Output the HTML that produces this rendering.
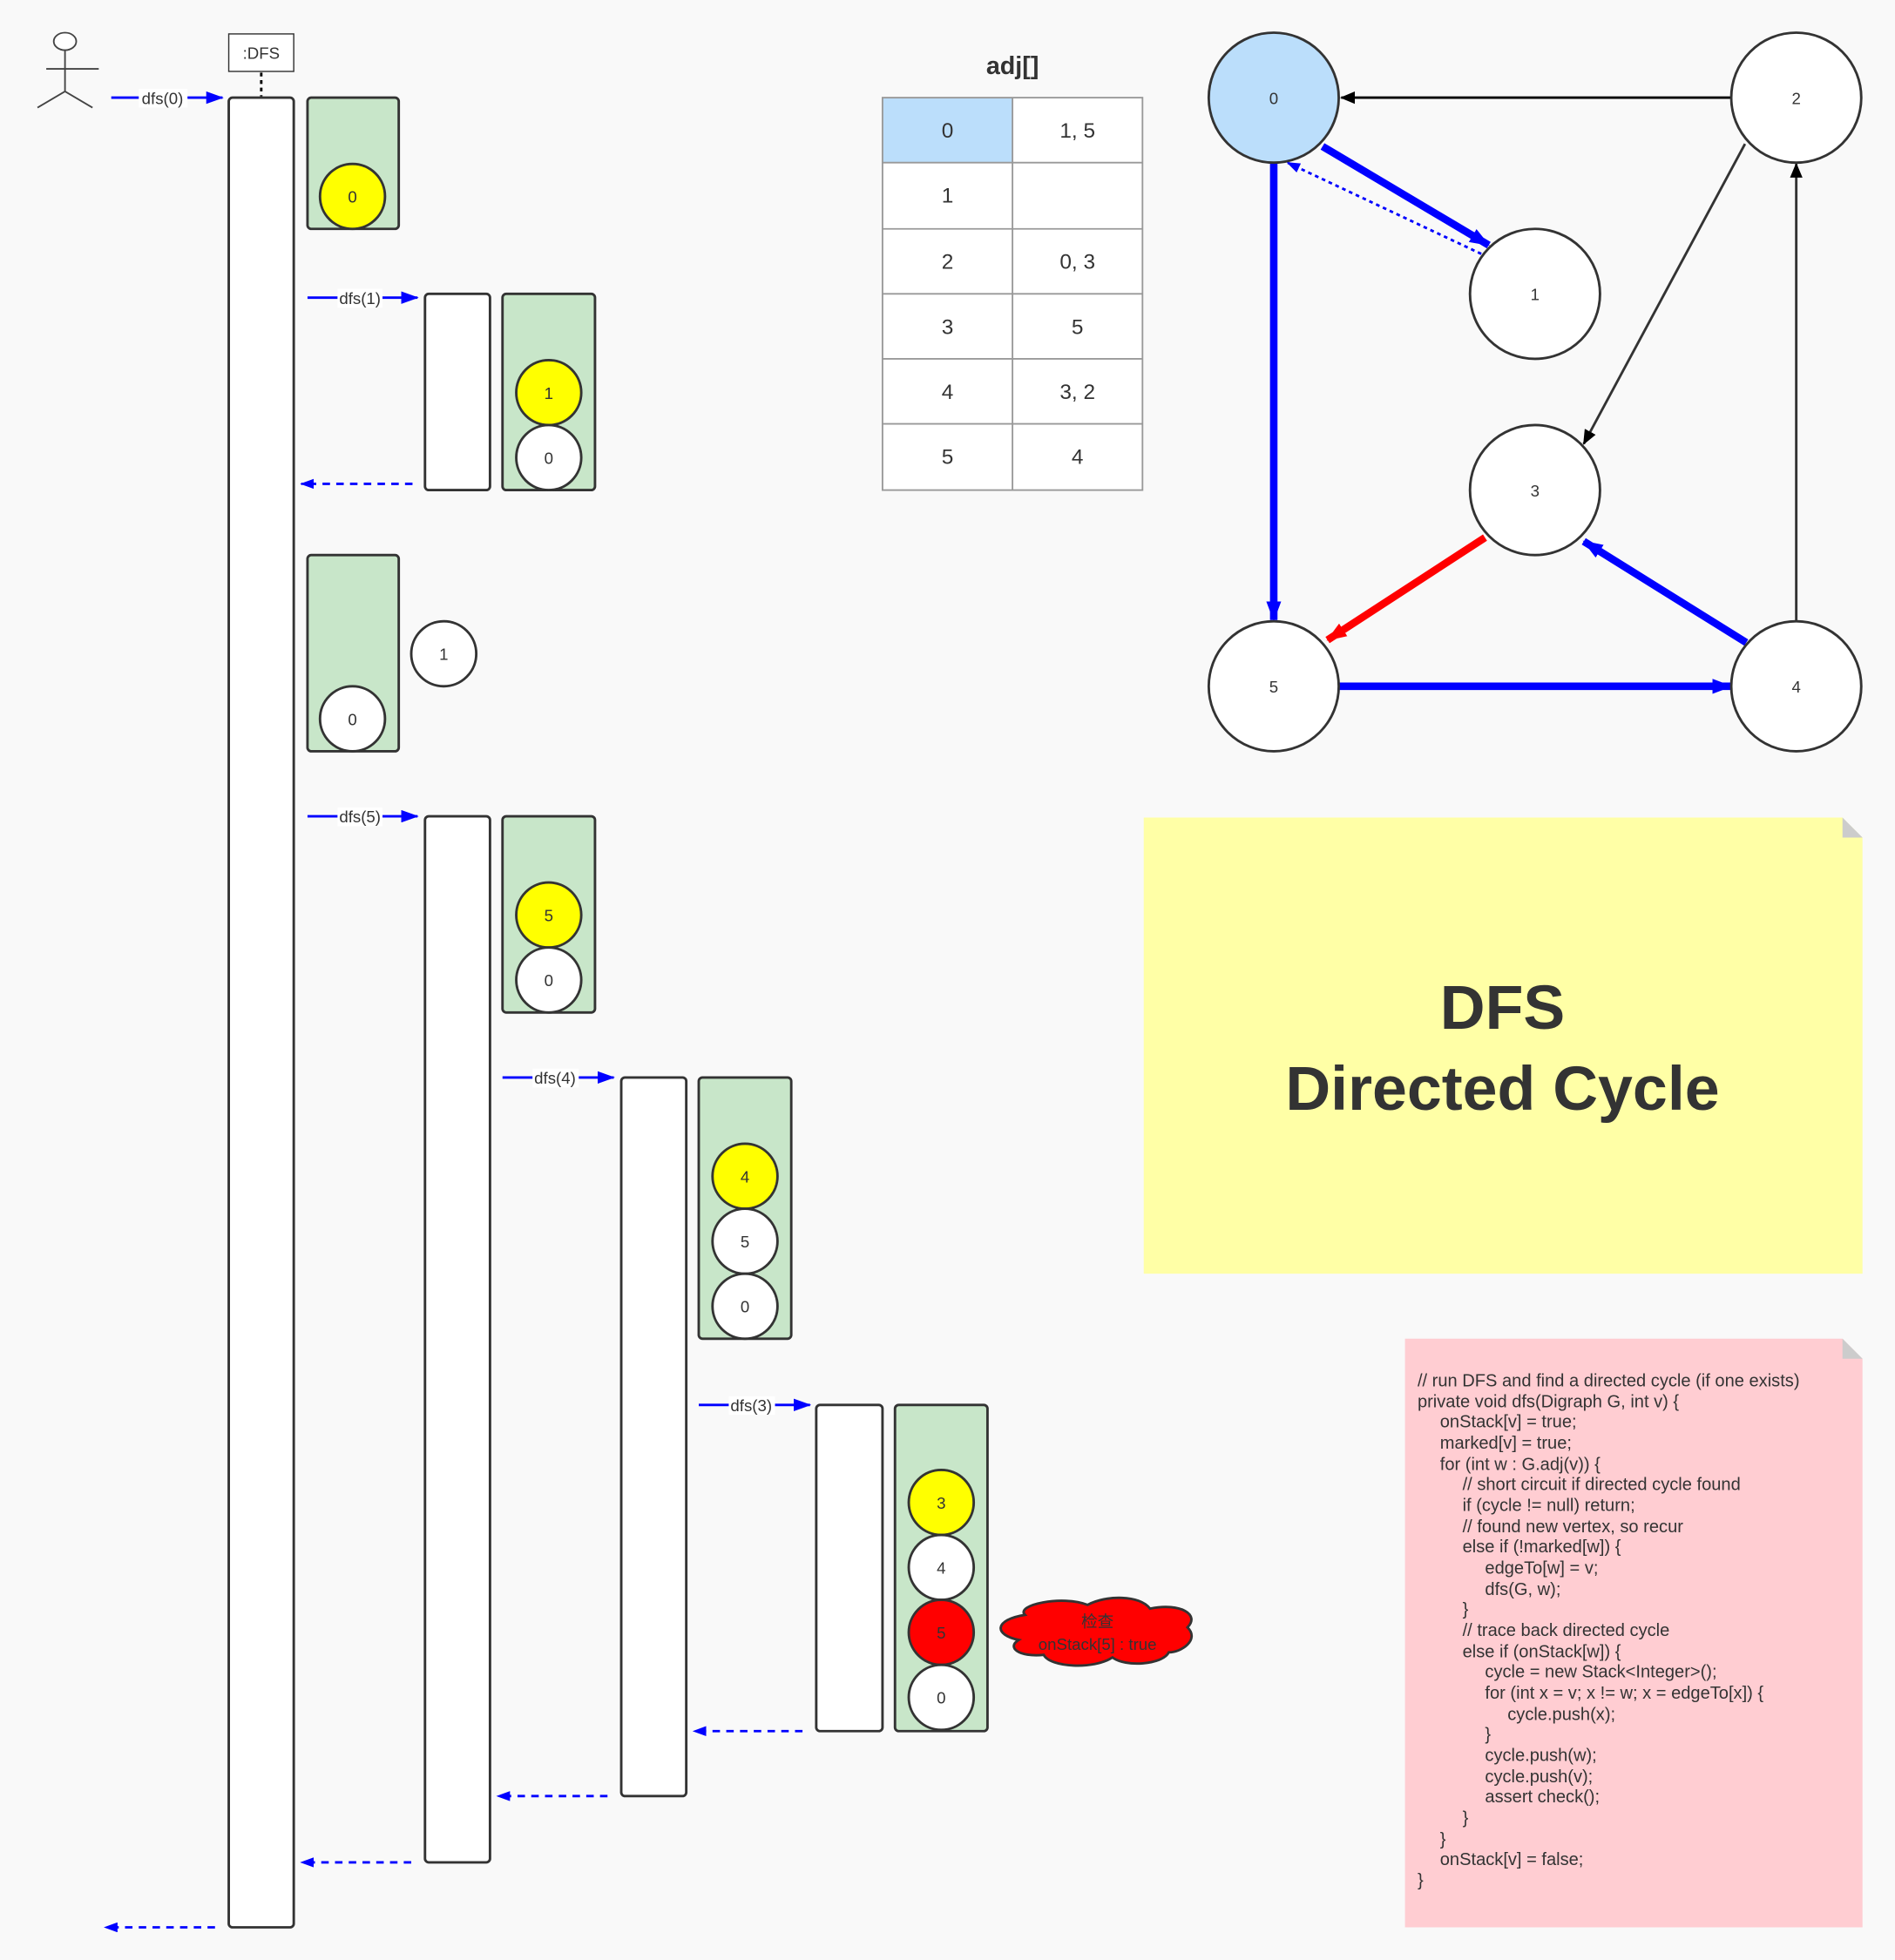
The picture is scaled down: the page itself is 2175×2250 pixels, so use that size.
<!DOCTYPE html>
<html><head><meta charset="utf-8"><style>html,body{margin:0;padding:0;background:#f9f9f9}svg{display:block}text{font-family:"Liberation Sans","Noto Sans CJK SC",sans-serif;fill:#333}</style></head><body>
<svg width="2175" height="2250" viewBox="0 0 1516 1568" xmlns="http://www.w3.org/2000/svg">
<defs>
<marker id="ab" markerWidth="14" markerHeight="10" refX="13" refY="5" orient="auto" markerUnits="userSpaceOnUse"><path d="M0,0L14,5L0,10z" fill="#00f"/></marker>
<marker id="abd" markerWidth="11" markerHeight="8" refX="10" refY="4" orient="auto" markerUnits="userSpaceOnUse"><path d="M0,0L11,4L0,8z" fill="#00f"/></marker>
<marker id="ab2" markerWidth="16" markerHeight="12" refX="15" refY="6" orient="auto" markerUnits="userSpaceOnUse"><path d="M0,0L16,6L0,12z" fill="#00f"/></marker>
<marker id="ak" markerWidth="12" markerHeight="10" refX="11" refY="5" orient="auto" markerUnits="userSpaceOnUse"><path d="M0,0L12,5L0,10z" fill="#000"/></marker>
<marker id="ar" markerWidth="16" markerHeight="12" refX="15" refY="6" orient="auto" markerUnits="userSpaceOnUse"><path d="M0,0L16,6L0,12z" fill="#f00"/></marker>
</defs>
<rect width="1516" height="1568" fill="#f9f9f9"/>
<!-- actor -->
<g stroke="#444" stroke-width="1.3" fill="none"><ellipse cx="52" cy="33" rx="9" ry="7" fill="#fff"/><path d="M52,40V73M37,55H79"/><line x1="52" y1="73" x2="30" y2="86"/><line x1="52" y1="73" x2="74" y2="86"/></g>
<rect x="183" y="27" width="52" height="30" fill="#fff" stroke="#333" stroke-width="1"/>
<text x="209" y="47" font-size="13" text-anchor="middle">:DFS</text>
<line x1="209" y1="58" x2="209" y2="77" stroke="#000" stroke-width="2" stroke-dasharray="3,3"/>
<!-- bars -->
<g fill="#fff" stroke="#333" stroke-width="2">
<rect x="183" y="78" width="52" height="1464" rx="3"/>
<rect x="340" y="235" width="52" height="157" rx="3"/>
<rect x="340" y="653" width="52" height="837" rx="3"/>
<rect x="497" y="862" width="52" height="575" rx="3"/>
<rect x="653" y="1124" width="53" height="261" rx="3"/>
</g>
<!-- stack boxes -->
<g fill="#c8e6c9" stroke="#333" stroke-width="2">
<rect x="246" y="78" width="73" height="105" rx="3"/>
<rect x="402" y="235" width="74" height="157" rx="3"/>
<rect x="246" y="444" width="73" height="157" rx="3"/>
<rect x="402" y="653" width="74" height="157" rx="3"/>
<rect x="559" y="862" width="74" height="209" rx="3"/>
<rect x="716" y="1124" width="74" height="261" rx="3"/>
</g>
<g stroke="#333" stroke-width="2" font-size="13">
<circle cx="282" cy="157" r="26" fill="#ff0"/>
<circle cx="439" cy="314" r="26" fill="#ff0"/><circle cx="439" cy="366" r="26" fill="#fff"/>
<circle cx="282" cy="575" r="26" fill="#fff"/><circle cx="355" cy="523" r="26" fill="#fff"/>
<circle cx="439" cy="732" r="26" fill="#ff0"/><circle cx="439" cy="784" r="26" fill="#fff"/>
<circle cx="596" cy="941" r="26" fill="#ff0"/><circle cx="596" cy="993" r="26" fill="#fff"/><circle cx="596" cy="1045" r="26" fill="#fff"/>
<circle cx="753" cy="1202" r="26" fill="#ff0"/><circle cx="753" cy="1254" r="26" fill="#fff"/><circle cx="753" cy="1306" r="26" fill="#f00"/><circle cx="753" cy="1358" r="26" fill="#fff"/>
</g>
<g font-size="13" text-anchor="middle">
<text x="282" y="162">0</text><text x="439" y="319">1</text><text x="439" y="371">0</text>
<text x="282" y="580">0</text><text x="355" y="528">1</text>
<text x="439" y="737">5</text><text x="439" y="789">0</text>
<text x="596" y="946">4</text><text x="596" y="998">5</text><text x="596" y="1050">0</text>
<text x="753" y="1207">3</text><text x="753" y="1259">4</text><text x="753" y="1311">5</text><text x="753" y="1363">0</text>
</g>
<!-- calls -->
<g stroke="#00f" stroke-width="2" marker-end="url(#ab)">
<line x1="89" y1="78" x2="178" y2="78"/>
<line x1="246" y1="238" x2="334" y2="238"/>
<line x1="246" y1="653" x2="334" y2="653"/>
<line x1="402" y1="862" x2="491" y2="862"/>
<line x1="559" y1="1124" x2="648" y2="1124"/>
</g>
<g font-size="13" text-anchor="middle">
<rect x="111" y="71" width="39" height="15" fill="#fff"/><text x="130" y="83">dfs(0)</text>
<rect x="270" y="231" width="36" height="15" fill="#fff"/><text x="288" y="243">dfs(1)</text>
<rect x="270" y="646" width="36" height="15" fill="#fff"/><text x="288" y="658">dfs(5)</text>
<rect x="426" y="855" width="37" height="15" fill="#fff"/><text x="444" y="867">dfs(4)</text>
<rect x="583" y="1117" width="37" height="15" fill="#fff"/><text x="601" y="1129">dfs(3)</text>
</g>
<g stroke="#00f" stroke-width="2" stroke-dasharray="6,5" marker-end="url(#abd)">
<line x1="330" y1="387" x2="241" y2="387"/>
<line x1="642" y1="1385" x2="555" y2="1385"/>
<line x1="486" y1="1437" x2="398" y2="1437"/>
<line x1="329" y1="1490" x2="241" y2="1490"/>
<line x1="172" y1="1542" x2="84" y2="1542"/>
</g>
<!-- cloud -->
<path d="M820,1292 C812,1284 850,1276 870,1284 C885,1276 912,1276 920,1287 C945,1282 960,1292 950,1302 C960,1312 945,1322 935,1322 C930,1332 900,1334 890,1326 C875,1336 840,1334 835,1324 C815,1326 805,1318 815,1312 C795,1308 795,1296 820,1292z" fill="#f00" stroke="#333" stroke-width="2"/>
<text x="878" y="1302" font-size="13" text-anchor="middle">检查</text>
<text x="878" y="1320" font-size="13" text-anchor="middle">onStack[5] : true</text>
<!-- table -->
<text x="810" y="59" font-size="20" font-weight="bold" text-anchor="middle">adj[]</text>
<rect x="706" y="78" width="104" height="52" fill="#bbdefb"/>
<rect x="810" y="78" width="104" height="52" fill="#fff"/>
<rect x="706" y="130" width="208" height="262" fill="#fff"/>
<g stroke="#999" stroke-width="1.3" fill="none"><rect x="706" y="78" width="208" height="314"/><line x1="810" y1="78" x2="810" y2="392"/><path d="M706,130H914M706,183H914M706,235H914M706,287H914M706,339H914"/></g>
<g font-size="17" text-anchor="middle">
<text x="758" y="110">0</text><text x="862" y="110">1, 5</text>
<text x="758" y="162">1</text>
<text x="758" y="215">2</text><text x="862" y="215">0, 3</text>
<text x="758" y="267">3</text><text x="862" y="267">5</text>
<text x="758" y="319">4</text><text x="862" y="319">3, 2</text>
<text x="758" y="371">5</text><text x="862" y="371">4</text>
</g>
<!-- graph edges -->
<line x1="1385" y1="78" x2="1073" y2="78" stroke="#000" stroke-width="2" marker-end="url(#ak)"/>
<line x1="1396" y1="115" x2="1267" y2="355" stroke="#333" stroke-width="2" marker-end="url(#ak)"/>
<line x1="1437" y1="497" x2="1437" y2="131" stroke="#333" stroke-width="2" marker-end="url(#ak)"/>
<line x1="1058" y1="117" x2="1191" y2="196" stroke="#00f" stroke-width="6" marker-end="url(#ab2)"/>
<line x1="1185" y1="203" x2="1030" y2="130" stroke="#00f" stroke-width="2" stroke-dasharray="3,3" marker-end="url(#abd)"/>
<line x1="1019" y1="130" x2="1019" y2="496" stroke="#00f" stroke-width="6" marker-end="url(#ab2)"/>
<line x1="1071" y1="549" x2="1385" y2="549" stroke="#00f" stroke-width="6" marker-end="url(#ab2)"/>
<line x1="1397" y1="514" x2="1267" y2="433" stroke="#00f" stroke-width="6" marker-end="url(#ab2)"/>
<line x1="1188" y1="430" x2="1062" y2="512" stroke="#f00" stroke-width="6" marker-end="url(#ar)"/>
<g stroke="#333" stroke-width="2">
<circle cx="1019" cy="78" r="52" fill="#bbdefb"/>
<circle cx="1437" cy="78" r="52" fill="#fff"/>
<circle cx="1228" cy="235" r="52" fill="#fff"/>
<circle cx="1228" cy="392" r="52" fill="#fff"/>
<circle cx="1019" cy="549" r="52" fill="#fff"/>
<circle cx="1437" cy="549" r="52" fill="#fff"/>
</g>
<g font-size="13" text-anchor="middle">
<text x="1019" y="83">0</text><text x="1437" y="83">2</text><text x="1228" y="240">1</text><text x="1228" y="397">3</text><text x="1019" y="554">5</text><text x="1437" y="554">4</text>
</g>
<!-- yellow note -->
<path d="M915,654H1474L1490,670V1019H915z" fill="#ffffa6"/>
<path d="M1474,654L1490,670H1474z" fill="#ccc"/>
<text x="1202" y="823" font-size="50" font-weight="bold" text-anchor="middle">DFS</text>
<text x="1202" y="888" font-size="50" font-weight="bold" text-anchor="middle">Directed Cycle</text>
<!-- pink note -->
<path d="M1124,1071H1474L1490,1087V1542H1124z" fill="#ffcdd2"/>
<path d="M1474,1071L1490,1087H1474z" fill="#ccc"/>
<g font-size="14">
<text x="1134" y="1109">// run DFS and find a directed cycle (if one exists)</text>
<text x="1134" y="1126">private void dfs(Digraph G, int v) {</text>
<text x="1152" y="1142">onStack[v] = true;</text>
<text x="1152" y="1159">marked[v] = true;</text>
<text x="1152" y="1176">for (int w : G.adj(v)) {</text>
<text x="1170" y="1192">// short circuit if directed cycle found</text>
<text x="1170" y="1209">if (cycle != null) return;</text>
<text x="1170" y="1226">// found new vertex, so recur</text>
<text x="1170" y="1242">else if (!marked[w]) {</text>
<text x="1188" y="1259">edgeTo[w] = v;</text>
<text x="1188" y="1276">dfs(G, w);</text>
<text x="1170" y="1292">}</text>
<text x="1170" y="1309">// trace back directed cycle</text>
<text x="1170" y="1326">else if (onStack[w]) {</text>
<text x="1188" y="1342">cycle = new Stack&lt;Integer&gt;();</text>
<text x="1188" y="1359">for (int x = v; x != w; x = edgeTo[x]) {</text>
<text x="1206" y="1376">cycle.push(x);</text>
<text x="1188" y="1392">}</text>
<text x="1188" y="1409">cycle.push(w);</text>
<text x="1188" y="1426">cycle.push(v);</text>
<text x="1188" y="1442">assert check();</text>
<text x="1170" y="1459">}</text>
<text x="1152" y="1476">}</text>
<text x="1152" y="1492">onStack[v] = false;</text>
<text x="1134" y="1509">}</text>
</g>
</svg>
</body></html>
